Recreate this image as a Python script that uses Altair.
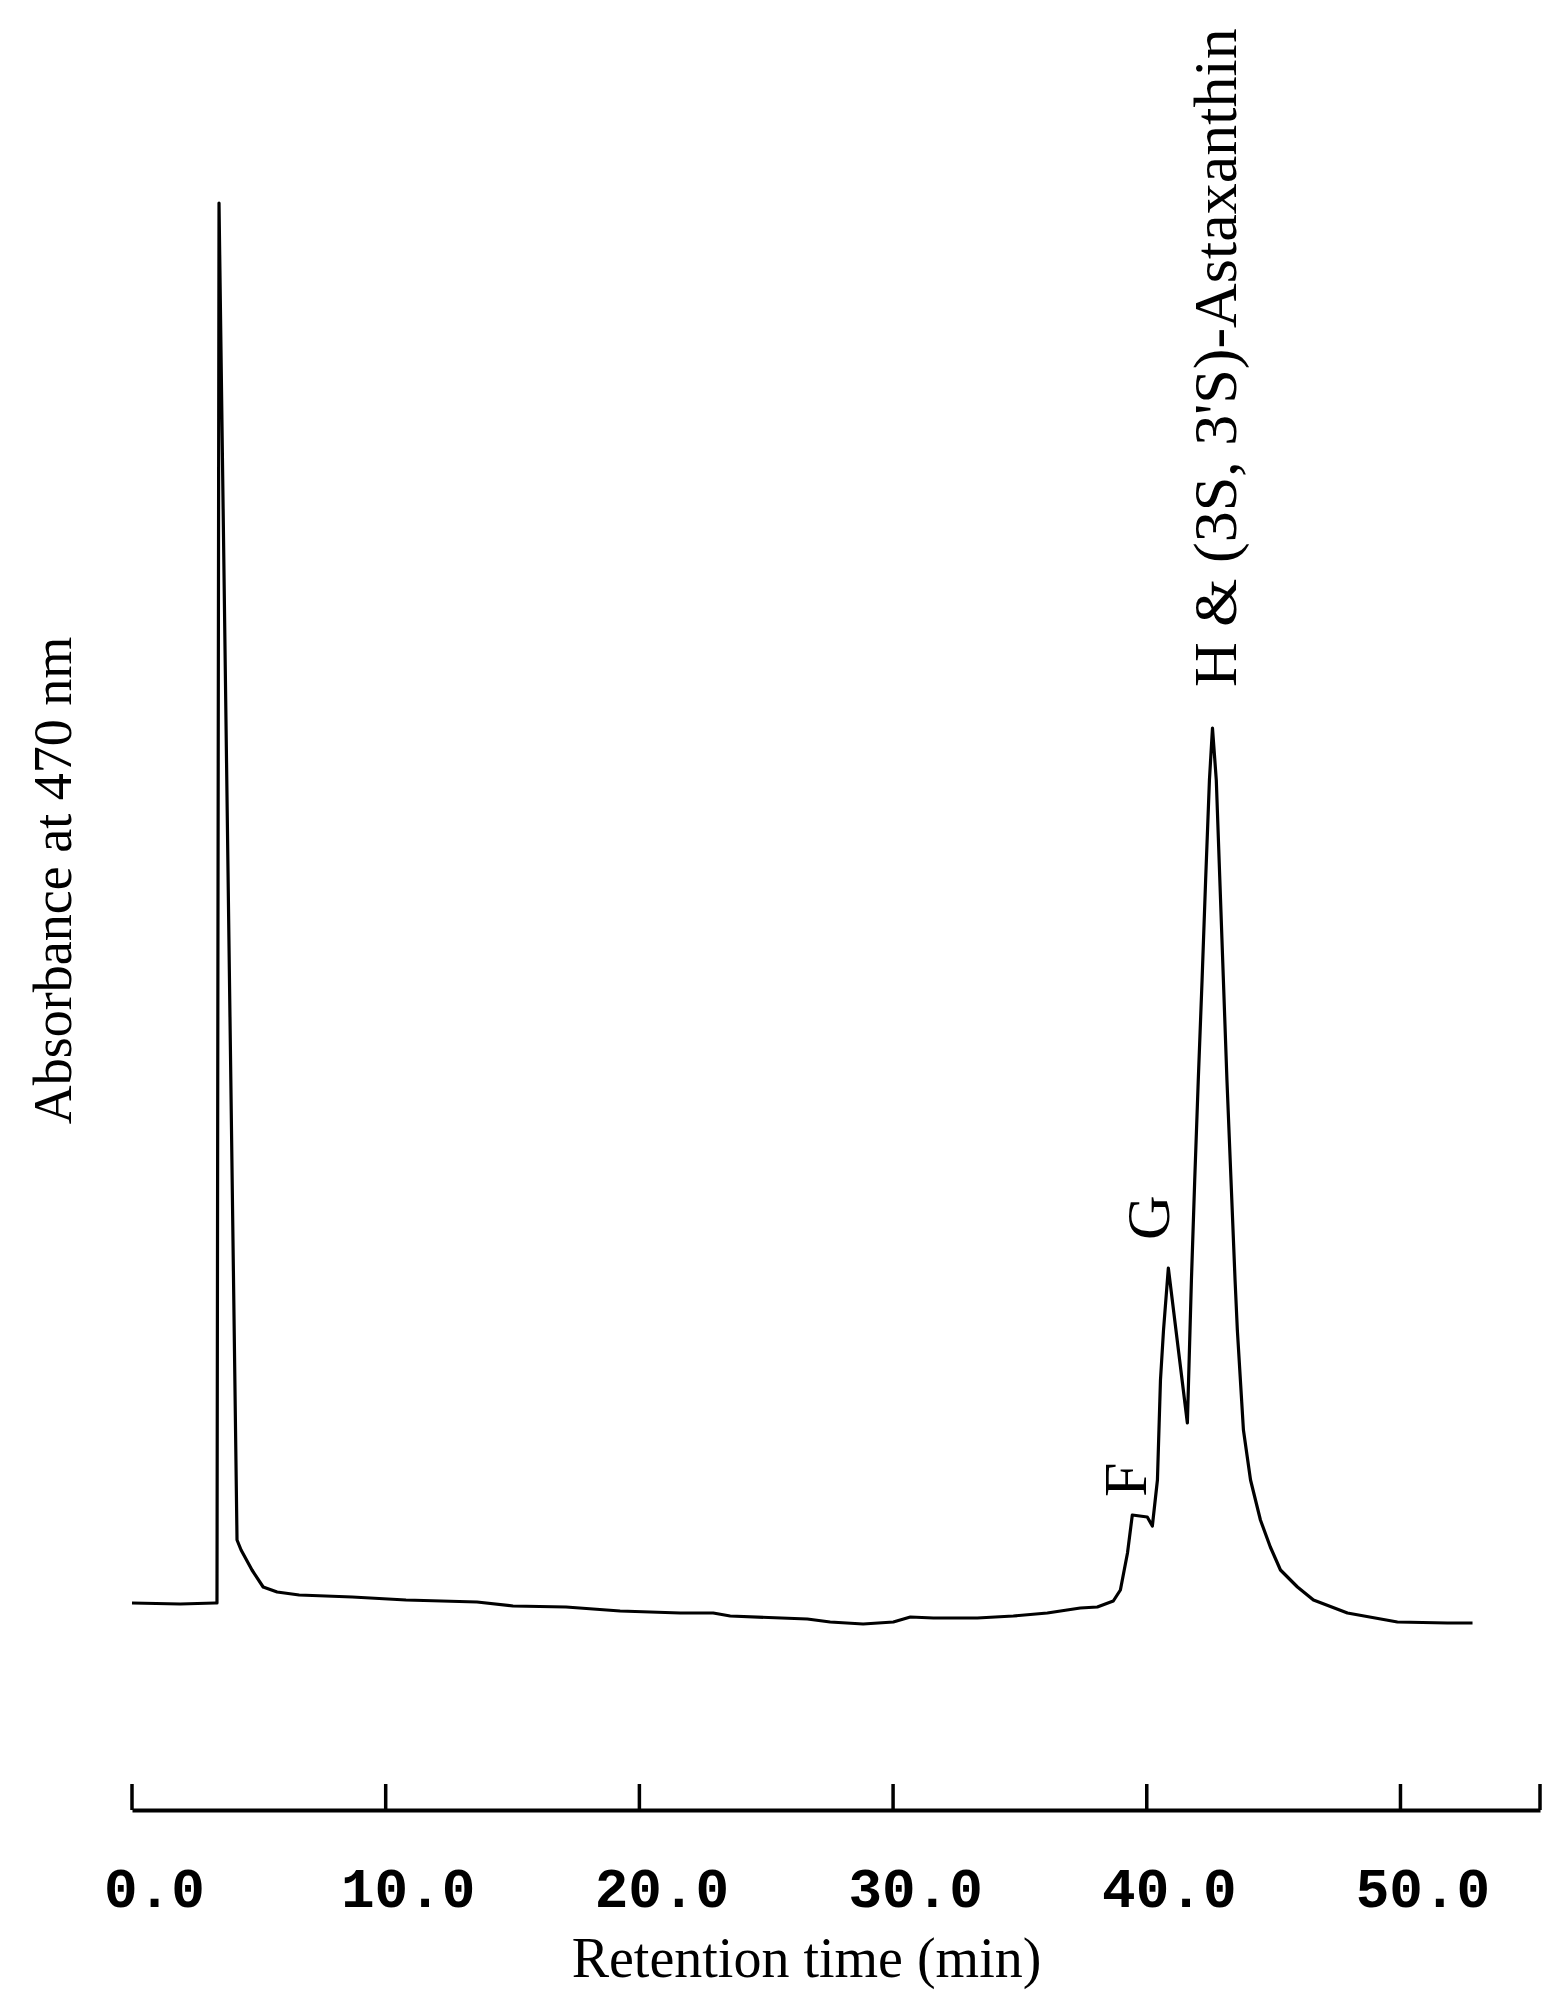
import altair as alt
import pandas as pd

# Chromatogram trace (retention time in min, absorbance in arbitrary units)
time_min = [0.0, 1.9, 3.27, 3.35, 3.43, 4.14, 4.30, 4.73, 5.17, 5.72,
            6.59, 8.68, 10.80, 13.60, 15.02, 17.11, 19.24, 21.61, 22.91, 23.58,
            26.62, 27.52, 28.82, 30.01, 30.68, 31.59, 33.32, 34.74, 36.08, 37.38,
            38.05, 38.68, 38.96, 39.24, 39.43, 40.02, 40.22, 40.42, 40.54, 40.66,
            40.85, 41.60, 41.76, 41.89, 42.03, 42.18, 42.32, 42.47, 42.59, 42.74,
            42.88, 43.02, 43.16, 43.32, 43.48, 43.57, 43.81, 44.09, 44.48, 44.87,
            45.27, 45.94, 46.57, 47.91, 49.88, 51.85, 52.84]
absorbance = [20.7, 20.6, 20.7, 20.7, 160.7, 27.0, 26.0, 24.0, 22.3, 21.8,
              21.5, 21.3, 21.0, 20.8, 20.4, 20.3, 19.9, 19.7, 19.7, 19.4,
              19.1, 18.8, 18.6, 18.8, 19.3, 19.2, 19.2, 19.4, 19.7, 20.2,
              20.3, 20.9, 22.0, 25.7, 29.5, 29.3, 28.4, 33.0, 43.0, 48.0,
              54.2, 38.7, 53.0, 63.0, 73.0, 83.0, 93.0, 103.0, 108.2, 103.0,
              93.0, 83.0, 73.0, 63.0, 53.0, 48.0, 38.0, 33.0, 29.0, 26.3,
              24.0, 22.3, 21.0, 19.7, 18.8, 18.7, 18.7]

# Axis
tick_values = [0, 10, 20, 30, 40, 50]
axis_end = 55.5
tick_marks = tick_values + [axis_end]

# Peak labels
peak_labels = ["F", "G", "H & (3S, 3'S)-Astaxanthin"]
label_time = [39.24, 40.14, 42.75]
label_level = [31.3, 57.0, 112.3]

W, H = 1408, 1810

trace = pd.DataFrame({"t": time_min, "a": absorbance, "i": list(range(len(time_min)))})
ticks_df = pd.DataFrame({"t": tick_marks})
labels_df = pd.DataFrame({"t": label_time, "a": label_level, "label": peak_labels})

xs = alt.Scale(domain=[0, axis_end], nice=False, zero=False)
ys = alt.Scale(domain=[0, 181], nice=False, zero=False)

x_axis = alt.Axis(
    values=tick_values, format=".1f", grid=False,
    ticks=False, tickSize=0,
    domain=True, domainColor="black", domainWidth=4,
    labelFont="Liberation Mono", labelFontSize=56, labelFontWeight="bold",
    labelColor="black", labelBaseline="alphabetic", labelPadding=96,
    labelOffset=22, labelFlush=False, labelOverlap=False,
    title="Retention time (min)", titleFont="Liberation Serif",
    titleFontSize=56, titleFontWeight="normal", titleColor="black",
    titleX=674, titleY=166, titleAlign="center", titleBaseline="alphabetic",
)
y_axis = alt.Axis(
    domain=False, ticks=False, labels=False, grid=False,
    title="Absorbance at 470 nm", titleFont="Liberation Serif",
    titleFontSize=54, titleFontWeight="normal", titleColor="black",
    titleX=-62, titleY=880, titleAngle=270, titleAlign="center",
    titleBaseline="alphabetic",
)

line = alt.Chart(trace).mark_line(
    color="black", strokeWidth=3.2, strokeJoin="round"
).encode(
    x=alt.X("t:Q", scale=xs, axis=x_axis),
    y=alt.Y("a:Q", scale=ys, axis=y_axis),
    order="i:Q",
)

ticks = alt.Chart(ticks_df).mark_rule(color="black", strokeWidth=3.5).encode(
    x=alt.X("t:Q", scale=xs),
    y=alt.value(H),
    y2=alt.value(H - 26),
)

labels = alt.Chart(labels_df).mark_text(
    angle=270, align="left", baseline="middle",
    font="Liberation Serif", fontSize=62, color="black",
).encode(
    x=alt.X("t:Q", scale=xs),
    y=alt.Y("a:Q", scale=ys),
    text="label:N",
)

chart = alt.layer(line, ticks, labels).properties(
    width=W, height=H,
    autosize=alt.AutoSizeParams(type="none"),
    padding={"left": 132, "top": 0, "right": 6, "bottom": 182},
    background="white",
).configure_view(stroke=None)

chart.save("out.html", embed_options={"renderer": "svg", "actions": False})
